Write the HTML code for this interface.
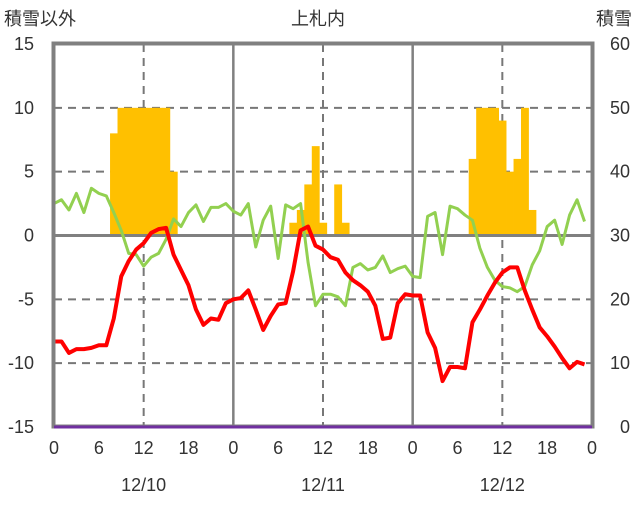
<!DOCTYPE html>
<html><head><meta charset="utf-8"><style>
body{margin:0;background:#fff;}
svg text{font-family:"Liberation Sans","Noto Sans CJK JP",sans-serif;fill:#333;font-size:18px;}
</style></head><body>
<svg id="chart" width="636" height="501" viewBox="0 0 636 501" xmlns="http://www.w3.org/2000/svg">
<g id="grid"></g>
<g id="bars"></g>
<g id="lines"></g>
<g id="frame"></g>
<g id="top"></g>
<g id="labels"></g>
<text x="4" y="25">積雪以外</text>
<text x="318" y="25" text-anchor="middle">上札内</text>
<text x="632" y="25" text-anchor="end">積雪</text>
</svg>
<script>
const leftTicks=[15,10,5,0,-5,-10,-15];
const rightTicks=[60,50,40,30,20,10,0];
const hourLabels=[0,6,12,18,0,6,12,18,0,6,12,18,0];
const dayLabels=["12/10","12/11","12/12"];
const snowHours=[8,9,10,11,12,13,14,15,16,32,33,34,35,36,38,39,56,57,58,59,60,61,62,63,64];
const snowDepth=[46,50,50,50,50,50,50,50,40,32,34,38,44,32,38,32,42,50,50,50,48,40,42,50,34];
const temp=[-8.3,-8.3,-9.2,-8.9,-8.9,-8.8,-8.6,-8.6,-6.5,-3.2,-2,-1.1,-0.6,0.2,0.5,0.6,-1.5,-2.7,-3.9,-5.8,-7,-6.5,-6.6,-5.3,
-5.0,-4.9,-4.3,-5.8,-7.4,-6.3,-5.4,-5.3,-2.8,0.4,0.7,-0.8,-1.1,-1.7,-1.9,-2.9,-3.5,-3.9,-4.4,-5.5,-8.1,-8.0,-5.3,-4.6,
-4.7,-4.7,-7.6,-8.8,-11.4,-10.3,-10.3,-10.4,-6.8,-5.8,-4.7,-3.7,-2.9,-2.5,-2.5,-4.3,-5.8,-7.2,-7.9,-8.7,-9.6,-10.4,-9.9,-10.1];
const other=[2.5,2.8,2.0,3.3,1.8,3.7,3.3,3.1,1.8,0.4,-1.4,-1.5,-2.4,-1.7,-1.4,-0.3,1.3,0.7,1.8,2.4,1.1,2.2,2.2,2.5,
1.9,1.6,2.5,-0.9,1.2,2.3,-1.8,2.4,2.1,2.5,-2.1,-5.5,-4.6,-4.6,-4.8,-5.5,-2.5,-2.2,-2.7,-2.5,-1.6,-2.9,-2.6,-2.4,
-3.2,-3.3,1.5,1.8,-1.5,2.3,2.1,1.6,1.2,-1.0,-2.5,-3.5,-4.0,-4.1,-4.4,-4.0,-2.3,-1.2,0.7,1.2,-0.7,1.6,2.8,1.1];
const baseline=[0,0];
const barBase=30;
const NS="http://www.w3.org/2000/svg";
const X0=54,X1=592,Y0=44,Y1=427,HOURS=72;
const x=h=>X0+(X1-X0)*h/HOURS;
const yL=v=>Y1-(v+15)/30*(Y1-Y0);
const yR=v=>Y1-v/60*(Y1-Y0);
function mk(tag,attrs,parent){const e=document.createElementNS(NS,tag);for(const k in attrs)e.setAttribute(k,attrs[k]);document.getElementById(parent).appendChild(e);return e;}
leftTicks.forEach(v=>{
  if(v===15||v===-15)return;
  const l=mk('line',{x1:X0,x2:X1,y1:yL(v),y2:yL(v),stroke:v===0?'#808080':'#777',"stroke-width":v===0?3:2,"stroke-dasharray":v===0?'':'8,6'},'grid');
  
  
});
for(let h=12;h<HOURS;h+=12){
  const solid=h%24===0;
  const l=mk('line',{x1:x(h),x2:x(h),y1:Y0,y2:Y1,stroke:solid?'#808080':'#777',"stroke-width":solid?2.5:2,"stroke-dasharray":solid?'':'8,6'},'grid');
  
  
}
const bw=(X1-X0)/HOURS;
snowHours.forEach((h,i)=>{
  const top=yR(snowDepth[i]),bot=yR(barBase)-1.5;
  const r=mk('rect',{x:x(h)-bw/2,y:top,width:bw+0.4,height:Math.max(0,bot-top),fill:'#FFC000'},'bars');
  
  
});
function line(arr,yf,color,name,w){
  const p=mk('polyline',{points:arr.map((v,i)=>x(i)+','+yf(v)).join(' '),fill:'none',stroke:color,"stroke-width":w,"stroke-linejoin":'round'},'lines');
  
  
}
line(other,yL,'#92D050','other-series-line',3);
line(temp,yL,'#FF0000','temperature-line',4);
const f=mk('rect',{x:X0-0.5,y:Y0-0.5,width:X1-X0+1,height:Y1-Y0,fill:'none',stroke:'#808080','stroke-width':4},'frame');


const b=mk('line',{x1:X0,x2:X1,y1:yR(baseline[0]),y2:yR(baseline[1]),stroke:'#7030A0','stroke-width':3},'top');


leftTicks.forEach(v=>{
  const t=mk('text',{x:34,y:yL(v)+6,"text-anchor":'end'},'labels');t.textContent=v;
  
  
});
rightTicks.forEach(v=>{
  const t=mk('text',{x:630,y:yR(v)+6,"text-anchor":'end'},'labels');t.textContent=v;
  
  
});
hourLabels.forEach((v,i)=>{
  const t=mk('text',{x:x(i*6),y:454,"text-anchor":'middle'},'labels');t.textContent=v;
  
  
});
dayLabels.forEach((v,i)=>{
  const t=mk('text',{x:x(i*24+12),y:491,"text-anchor":'middle'},'labels');t.textContent=v;
  
  
});
</script>
</body></html>
